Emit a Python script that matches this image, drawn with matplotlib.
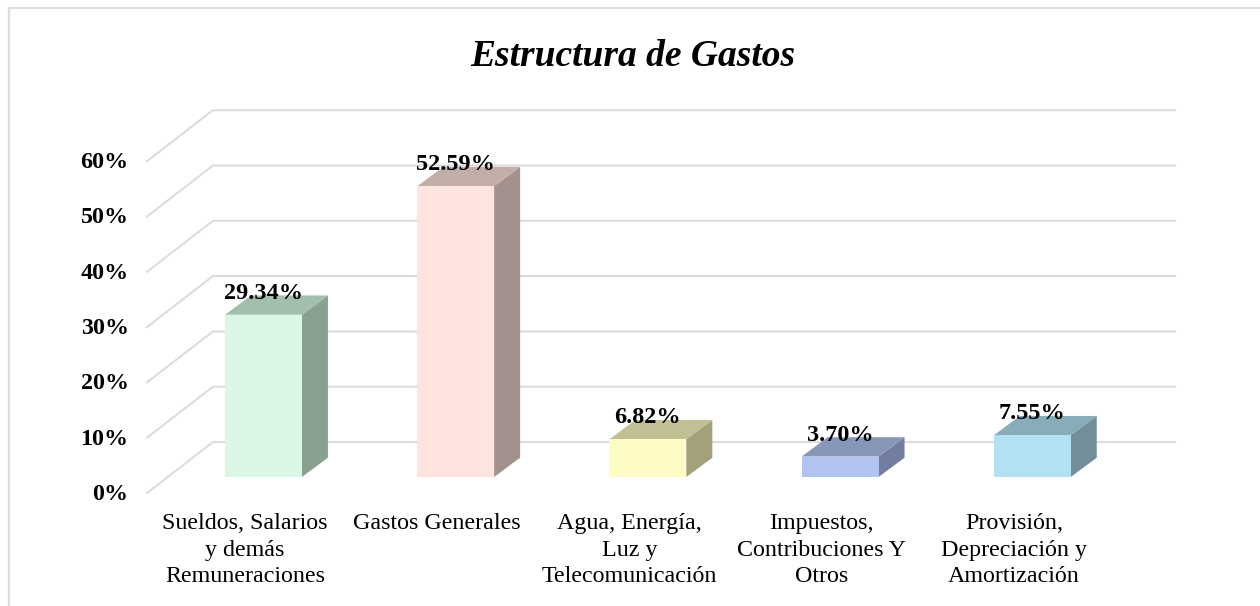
import numpy as np
import matplotlib
matplotlib.use("Agg")
import matplotlib.pyplot as plt
from matplotlib.patches import Polygon, Rectangle
from matplotlib.lines import Line2D

categories = ["Sueldos, Salarios\ny demás\nRemuneraciones", "Gastos Generales",
              "Agua, Energía,\nLuz y\nTelecomunicación", "Impuestos,\nContribuciones Y\nOtros",
              "Provisión,\nDepreciación y\nAmortización"]
values = [29.34, 52.59, 6.82, 3.70, 7.55]
value_labels = ["29.34%", "52.59%", "6.82%", "3.70%", "7.55%"]
yticks = [0, 10, 20, 30, 40, 50, 60]
ytick_labels = ["0%", "10%", "20%", "30%", "40%", "50%", "60%"]
front_colors = ["#D9F7E2", "#FFE3DF", "#FFFBC4", "#B2C3F2", "#B2E2F2"]
top_colors = ["#A4BEAC", "#C2ADA9", "#C2BF95", "#8896B8", "#88ACB8"]
side_colors = ["#88A28F", "#A3918D", "#A3A07C", "#717E9F", "#728E9A"]

W, H = 1260, 606
PX_X, PX_Y = 192.2, 5.53      # pixels per category, pixels per percent
X0, Y0 = 263.5, 477.0         # pixel of first bar centre and of the bar base

fig = plt.figure(figsize=(W / 100, H / 100), dpi=100, facecolor="white")
ax = fig.add_axes([0, 0, 1, 1])
ax.set_xlim(-X0 / PX_X, (W - X0) / PX_X)
ax.set_ylim(-(H - Y0) / PX_Y, Y0 / PX_Y)
ax.axis("off")
plt.rcParams["font.family"] = ["Liberation Serif"]

GRID = "#DCDCDC"
front_x, back_x, right_x = -0.606, -0.263, 4.743
front_dy, back_dy = -2.89, 6.33
for t in yticks:
    ax.add_line(Line2D([front_x, back_x, right_x], [t + front_dy, t + back_dy, t + back_dy],
                       color=GRID, lw=1.5, zorder=1, solid_joinstyle="miter"))
    ax.text(-0.702, t + front_dy - 0.25, ytick_labels[yticks.index(t)], ha="right", va="center",
            fontsize=17.3, fontweight="bold", color="black", family="Liberation Serif", zorder=5)

bw = 0.40
dx, dy = 26 / PX_X, 19.3 / PX_Y
for i, v in enumerate(values):
    l, r = i - bw / 2, i + bw / 2
    ax.add_patch(Polygon([(r, 0), (r + dx, dy), (r + dx, v + dy), (r, v)], closed=True,
                         fc=side_colors[i], ec="none", zorder=2))
    ax.add_patch(Polygon([(l, v), (r, v), (r + dx, v + dy), (l + dx, v + dy)], closed=True,
                         fc=top_colors[i], ec="none", zorder=2))
    ax.add_patch(Rectangle((l, 0), bw, v, fc=front_colors[i], ec="none", zorder=3))
    ax.text(i, v + 2.9, value_labels[i], ha="center", va="baseline", fontsize=17.5,
            fontweight="bold", color="black", family="Liberation Serif", zorder=6)
    ax.text(i - 0.096, -6.6, categories[i], ha="center", va="top", fontsize=17.3,
            color="black", family="Liberation Serif", linespacing=1.33, zorder=6)

ax.text(0.5025, 1 - 66 / H, "Estructura de Gastos", transform=ax.transAxes, ha="center",
        va="baseline", fontsize=27, fontweight="bold", fontstyle="italic",
        family="Liberation Serif", color="black")

# chart frame: top and left edges only are visible inside the crop
fig.add_artist(Line2D([8.5 / W, 8.5 / W, 1], [0, 1 - 7.5 / H, 1 - 7.5 / H],
                      transform=fig.transFigure, color="#DEDEDE", lw=1.6,
                      solid_joinstyle="miter"))

fig.savefig("out.png", dpi=100, facecolor="white")
